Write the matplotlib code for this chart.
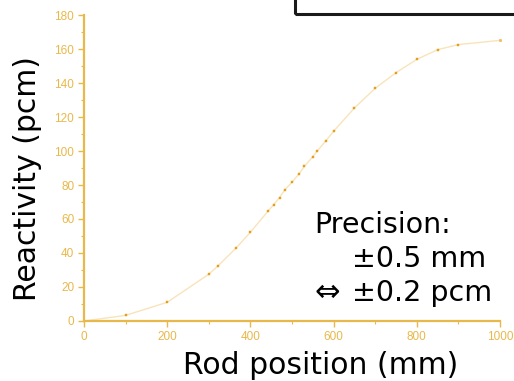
import matplotlib.pyplot as plt
from matplotlib.patches import Rectangle
from matplotlib.ticker import MultipleLocator

# Measured reactivity vs. control rod position
rod_pos = [100, 200, 300, 322, 365, 400, 442, 456, 470, 483, 500, 516, 530,
           550, 560, 581, 600, 650, 700, 750, 800, 850, 900]
reactivity = [3.3, 11.0, 27.5, 32.4, 42.8, 52.2, 64.5, 68.5, 72.6, 77.3, 81.6,
              86.3, 91.0, 96.7, 99.8, 105.9, 111.6, 125.3, 136.9, 146.1, 153.9,
              159.6, 162.6]

# Fitted curve endpoints (line starts at the origin and ends at full withdrawal)
curve_start = (0, 0.0)
curve_end = (1000, 165.1)

AXIS_COL = "#E9B84A"
MARK_COL = "#E3A01C"
LINE_COL = "#F8E4BA"

fig = plt.figure(figsize=(5.14, 3.81), dpi=100)
ax = fig.add_axes([0.1634, 0.1575, 0.8094, 0.8031])

cx = [curve_start[0]] + rod_pos + [curve_end[0]]
cy = [curve_start[1]] + reactivity + [curve_end[1]]
ax.plot(cx, cy, color=LINE_COL, lw=1.0, zorder=2)
ax.plot(rod_pos, reactivity, ls="none", marker="s", ms=1.7, color=MARK_COL,
        mec=MARK_COL, mew=0.3, zorder=3)
ax.plot([curve_end[0]], [curve_end[1]], ls="none", marker="s", ms=1.1,
        color="#F0C060", zorder=3, clip_on=False)

ax.set_xlim(0, 1000)
ax.set_ylim(0, 180)
ax.xaxis.set_major_locator(MultipleLocator(200))
ax.xaxis.set_minor_locator(MultipleLocator(100))
ax.yaxis.set_major_locator(MultipleLocator(20))
ax.yaxis.set_minor_locator(MultipleLocator(10))

for s in ["top", "right"]:
    ax.spines[s].set_visible(False)
for s in ["left", "bottom"]:
    ax.spines[s].set_color(AXIS_COL)
    ax.spines[s].set_linewidth(1.6)

ax.tick_params(which="major", direction="out", length=4, width=1.0,
               color=AXIS_COL, labelcolor=AXIS_COL, labelsize=8.5, pad=3)
ax.tick_params(which="minor", direction="out", length=2.5, width=0.8,
               color=AXIS_COL)
for lab in ax.get_xticklabels() + ax.get_yticklabels():
    lab.set_family("Liberation Sans")

# Axis titles placed in figure coordinates
fig.text(321 / 514, 1 - 365 / 381, "Rod position (mm)", fontsize=21.5,
         color="black", ha="center", va="center")
fig.text(28 / 514, 1 - 179 / 381, "Reactivity (pcm)", fontsize=21.5,
         color="black", ha="center", va="center", rotation=90)

fig.text(314 / 514, 1 - 233 / 381, "Precision:", fontsize=20.5, color="black")
fig.text(352 / 514, 1 - 267 / 381, "\u00b10.5 mm", fontsize=20.5, color="black")
fig.text(314 / 514, 1 - 301 / 381, "\u21d4", fontsize=22, color="black")
fig.text(352 / 514, 1 - 301 / 381, "\u00b10.2 pcm", fontsize=20.5,
         color="black")

# Framed box along the top edge
fig.patches.append(Rectangle((295 / 514, 1 - 14 / 381), 0.6, 0.2,
                             transform=fig.transFigure, fill=False,
                             edgecolor="#1a1a1a", lw=2.2))

fig.savefig("out.png", dpi=100)
plt.close(fig)
